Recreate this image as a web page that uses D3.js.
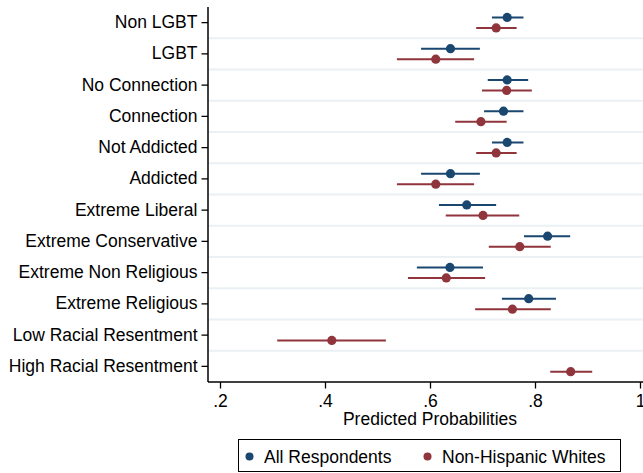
<!DOCTYPE html>
<html>
<head>
<meta charset="utf-8">
<script src="https://cdn.jsdelivr.net/npm/d3@7"></script>
<style>
  body { margin: 0; background: #fff; }
  text { font-family: "Liberation Sans", Arial, Helvetica, sans-serif; fill: #000; }
</style>
</head>
<body>
<script>
// Data
// =================================
var categories = ["Non LGBT", "LGBT", "No Connection", "Connection", "Not Addicted", "Addicted",
    "Extreme Liberal", "Extreme Conservative", "Extreme Non Religious", "Extreme Religious",
    "Low Racial Resentment", "High Racial Resentment"];

// All Respondents (null = not estimated)
var allEst = [0.747, 0.639, 0.747, 0.740, 0.747, 0.639, 0.670, 0.824, 0.638, 0.788, null, null];
var allLo  = [0.718, 0.583, 0.710, 0.703, 0.718, 0.583, 0.617, 0.779, 0.575, 0.737, null, null];
var allHi  = [0.778, 0.695, 0.787, 0.778, 0.778, 0.695, 0.726, 0.867, 0.701, 0.840, null, null];

// Non-Hispanic Whites
var whiteEst = [0.726, 0.611, 0.746, 0.697, 0.726, 0.611, 0.701, 0.771, 0.631, 0.757, 0.413, 0.868];
var whiteLo  = [0.688, 0.537, 0.699, 0.648, 0.688, 0.537, 0.630, 0.712, 0.558, 0.686, 0.309, 0.829];
var whiteHi  = [0.765, 0.684, 0.794, 0.746, 0.765, 0.684, 0.770, 0.830, 0.705, 0.830, 0.516, 0.909];

var xTicks = [0.2, 0.4, 0.6, 0.8, 1];
var seriesNames = ["All Respondents", "Non-Hispanic Whites"];

// Set up chart
// =================================
var svgWidth = 643;
var svgHeight = 473;

var margin = { top: 7, right: 0, bottom: 91, left: 208 };
var chartWidth = svgWidth - margin.left - margin.right;
var chartHeight = svgHeight - margin.top - margin.bottom;

var colors = ["#1a476f", "#90353b"];
var fontSize = 17.5;

var svg = d3.select("body")
    .append("svg")
    .attr("width", svgWidth)
    .attr("height", svgHeight);

var chartGroup = svg.append("g")
    .attr("transform", `translate(${margin.left}, ${margin.top})`);

// scales
var xScale = d3.scaleLinear()
    .domain([0.2, 1])
    .range([12, 432]);

var yScale = d3.scaleBand()
    .domain(categories)
    .range([0, chartHeight])
    .padding(0);

// gridlines between categories
chartGroup.selectAll(".grid")
    .data(categories.slice(1))
    .enter()
    .append("line")
    .attr("class", "grid")
    .attr("x1", 0)
    .attr("x2", chartWidth)
    .attr("y1", d => yScale(d))
    .attr("y2", d => yScale(d))
    .attr("stroke", "#eaf0f4")
    .attr("stroke-width", 2);

// series rows
var series = [
    { name: seriesNames[0], est: allEst, lo: allLo, hi: allHi, offset: -5.2, color: colors[0] },
    { name: seriesNames[1], est: whiteEst, lo: whiteLo, hi: whiteHi, offset: 5.3, color: colors[1] }
];

series.forEach(function (s) {
    var rows = categories.map(function (c, i) {
        return { cat: c, est: s.est[i], lo: s.lo[i], hi: s.hi[i] };
    }).filter(d => d.est !== null);

    var yPos = d => yScale(d.cat) + yScale.bandwidth() / 2 + s.offset;

    chartGroup.selectAll(null)
        .data(rows)
        .enter()
        .append("line")
        .attr("x1", d => xScale(d.lo))
        .attr("x2", d => xScale(d.hi))
        .attr("y1", yPos)
        .attr("y2", yPos)
        .attr("stroke", s.color)
        .attr("stroke-width", 2);

    chartGroup.selectAll(null)
        .data(rows)
        .enter()
        .append("circle")
        .attr("cx", d => xScale(d.est))
        .attr("cy", yPos)
        .attr("r", 4.6)
        .attr("fill", s.color);
});

// axes
var leftAxis = d3.axisLeft(yScale).tickSize(6.5).tickPadding(4);
var bottomAxis = d3.axisBottom(xScale)
    .tickValues(xTicks)
    .tickSize(6.5)
    .tickPadding(6)
    .tickFormat(d => d === 1 ? "1" : d3.format(".1f")(d).replace(/^0/, ""));

var yAxisG = chartGroup.append("g").call(leftAxis);
var xAxisG = chartGroup.append("g")
    .attr("transform", `translate(0, ${chartHeight})`)
    .call(bottomAxis);

[yAxisG, xAxisG].forEach(function (g) {
    g.select(".domain").remove();
    g.selectAll("line").attr("stroke", "#000").attr("stroke-width", 1.3);
    g.selectAll("text").attr("font-size", fontSize).attr("fill", "#000")
        .attr("font-family", "'Liberation Sans', Arial, Helvetica, sans-serif");
});

// axis lines
chartGroup.append("line")
    .attr("x1", 0).attr("x2", 0)
    .attr("y1", 0).attr("y2", chartHeight)
    .attr("stroke", "#000").attr("stroke-width", 1.5);

chartGroup.append("line")
    .attr("x1", 0).attr("x2", chartWidth)
    .attr("y1", chartHeight).attr("y2", chartHeight)
    .attr("stroke", "#000").attr("stroke-width", 1.5);

// x axis title
chartGroup.append("text")
    .attr("x", xScale(0.6))
    .attr("y", chartHeight + 43)
    .attr("text-anchor", "middle")
    .attr("font-size", fontSize)
    .text("Predicted Probabilities");

// legend
var legend = svg.append("g");
legend.append("rect")
    .attr("x", 238.5)
    .attr("y", 439.5)
    .attr("width", 382)
    .attr("height", 32)
    .attr("fill", "#fff")
    .attr("stroke", "#000")
    .attr("stroke-width", 1);

var legendX = [249.5, 427.5];
series.forEach(function (s, i) {
    legend.append("circle")
        .attr("cx", legendX[i])
        .attr("cy", 456.5)
        .attr("r", 4)
        .attr("fill", s.color);
    legend.append("text")
        .attr("x", legendX[i] + 14.5)
        .attr("y", 462.5)
        .attr("font-size", fontSize)
        .text(s.name);
});
</script>
</body>
</html>
